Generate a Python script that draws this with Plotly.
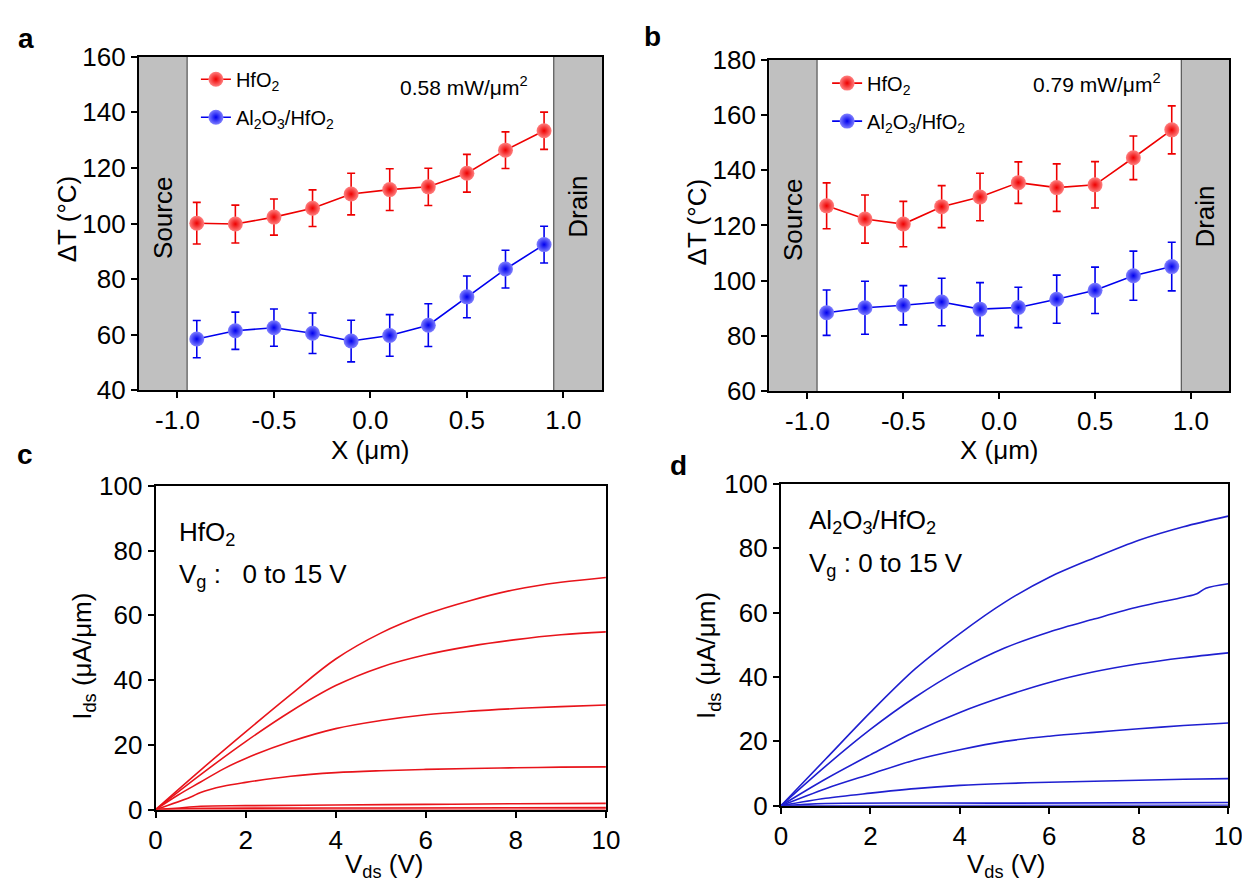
import plotly.graph_objects as go

# ---------------- data ----------------
x_pos = [-0.9, -0.7, -0.5, -0.3, -0.1, 0.1, 0.3, 0.5, 0.7, 0.9]

a_hfo2 = [100.1, 99.8, 102.3, 105.5, 110.6, 112.2, 113.2, 118.1, 126.4, 133.4]
a_hfo2_err = [7.5, 6.8, 6.5, 6.6, 7.5, 7.5, 6.7, 6.8, 6.6, 6.7]
a_al = [58.4, 61.4, 62.5, 60.5, 57.7, 59.7, 63.4, 73.6, 83.6, 92.4]
a_al_err = [6.7, 6.7, 6.7, 7.3, 7.5, 7.5, 7.7, 7.5, 6.8, 6.6]

b_hfo2 = [127.1, 122.3, 120.5, 126.8, 130.3, 135.5, 133.7, 134.7, 144.5, 154.6]
b_hfo2_err = [8.3, 8.7, 8.2, 7.6, 8.6, 7.5, 8.6, 8.4, 7.9, 8.7]
b_al = [88.4, 90.2, 91.1, 92.3, 89.7, 90.3, 93.3, 96.5, 101.8, 105.1]
b_al_err = [8.2, 9.6, 7.1, 8.6, 9.6, 7.3, 8.7, 8.4, 8.9, 8.8]

pos_ticks = [-1.0, -0.5, 0.0, 0.5, 1.0]
pos_ticktext = ["-1.0", "-0.5", "0.0", "0.5", "1.0"]

# contact regions (um)
source_region = [-1.2, -0.95]
drain_region = [0.95, 1.2]

# output curves, panel c (HfO2)
c_x1 = [0, 1, 2, 3, 4, 5, 6, 7, 8, 9, 10]
c_y1 = [0, 12.2, 24, 35.5, 46.5, 54.5, 60.3, 64.6, 68, 70.2, 71.7]
c_x2 = [0, 1, 2, 3, 4, 5, 6, 7, 8, 9, 10]
c_y2 = [0, 10.8, 21, 30.3, 38.3, 44, 47.8, 50.5, 52.5, 54, 54.9]
c_x3 = [0, 0.5, 1, 1.5, 2, 3, 4, 5, 6, 7, 8, 9, 10]
c_y3 = [0, 4.5, 8.5, 12.5, 15.8, 21, 25, 27.5, 29.3, 30.4, 31.2, 31.8, 32.3]
c_x4 = [0, 0.77, 1, 1.5, 2, 3, 4, 5, 6, 7, 8, 9, 10]
c_y4 = [0, 3.8, 5.3, 7.2, 8.4, 10.3, 11.4, 12, 12.4, 12.7, 12.9, 13.1, 13.2]
c_x5 = [0, 0.45, 1, 2, 4, 6, 8, 10]
c_y5 = [0, 0.4, 1.0, 1.2, 1.4, 1.6, 1.8, 1.9]
c_x6 = [0, 1, 5, 10]
c_y6 = [0, 0.4, 0.5, 0.6]
c_x7 = [0, 10]
c_y7 = [0, 0.05]

# output curves, panel d (Al2O3/HfO2)
d_x1 = [0, 1, 2, 3, 4, 5, 6, 7, 8, 9, 10]
d_y1 = [0, 14.5, 29, 42.5, 53.5, 63.2, 71, 77, 82.5, 86.7, 90]
d_x2 = [0, 1, 2, 3, 4, 5, 6, 7, 8, 9, 9.3, 9.5, 10]
d_y2 = [0, 12.3, 23.7, 33.7, 42.2, 49, 54, 58, 61.8, 64.8, 65.9, 67.6, 69]
d_x3 = [0, 1, 2, 3, 4, 5, 6, 7, 8, 9, 10]
d_y3 = [0, 8.3, 15.8, 23, 29, 34, 38.3, 41.6, 44.1, 46, 47.5]
d_x4 = [0, 1, 2, 3, 4, 5, 6, 7, 8, 9, 10]
d_y4 = [0, 5.3, 9.8, 14.2, 17.4, 20, 21.6, 22.8, 23.9, 24.9, 25.7]
d_x5 = [0, 1, 2, 3, 4, 5, 6, 7, 8, 9, 10]
d_y5 = [0, 2.3, 3.9, 5.3, 6.3, 6.9, 7.3, 7.6, 7.9, 8.2, 8.4]
d_x6 = [0, 1, 5, 10]
d_y6 = [0, 0.7, 0.8, 1.0]
d_x7 = [0, 10]
d_y7 = [0, 0.1]

# ---------------- style ----------------
W, H = 1250, 890
FONT = "Liberation Sans, Arial, sans-serif"
RED = "#ee0000"
BLUE = "#0000ee"
RED_LINE = "#e8141b"
BLUE_LINE = "#1f1fd0"
TICK = 26


def px(x):
    return x / W


def py(y):
    return 1 - y / H


fig = go.Figure()


def add_series(xa, ya, y, err, color, light, name, legend, group):
    fig.add_trace(go.Scatter(
        x=x_pos, y=y, xaxis=xa, yaxis=ya, mode="lines+markers", name=name,
        line=dict(color=color, width=1.6),
        marker=dict(size=15, color=light, gradient=dict(type="radial", color=color),
                    line=dict(width=0)),
        error_y=dict(type="data", array=err, visible=True, color=color,
                     thickness=1.6, width=4),
        legend=legend, legendgroup=group, showlegend=True))


HF = "HfO<sub>2</sub>"
AL = "Al<sub>2</sub>O<sub>3</sub>/HfO<sub>2</sub>"
add_series("x", "y", a_hfo2, a_hfo2_err, RED, "#ff8080", HF, "legend", "a1")
add_series("x", "y", a_al, a_al_err, BLUE, "#8080ff", AL, "legend", "a2")
add_series("x2", "y2", b_hfo2, b_hfo2_err, RED, "#ff8080", HF, "legend2", "b1")
add_series("x2", "y2", b_al, b_al_err, BLUE, "#8080ff", AL, "legend2", "b2")

for cx, cy in [(c_x1, c_y1), (c_x2, c_y2), (c_x3, c_y3), (c_x4, c_y4),
               (c_x5, c_y5), (c_x6, c_y6), (c_x7, c_y7)]:
    fig.add_trace(go.Scatter(x=cx, y=cy, xaxis="x3", yaxis="y3", mode="lines",
                             line=dict(color=RED_LINE, width=1.6, shape="spline", smoothing=1.0),
                             showlegend=False))
for dx, dy in [(d_x1, d_y1), (d_x2, d_y2), (d_x3, d_y3), (d_x4, d_y4),
               (d_x5, d_y5), (d_x6, d_y6), (d_x7, d_y7)]:
    fig.add_trace(go.Scatter(x=dx, y=dy, xaxis="x4", yaxis="y4", mode="lines",
                             line=dict(color=BLUE_LINE, width=1.6, shape="spline", smoothing=0.9),
                             showlegend=False))


# ---------------- axes ----------------
def axis(domain, rng, dtick, anchor, vals=None, texts=None):
    d = dict(domain=domain, range=rng, anchor=anchor, showline=True, linecolor="black",
             linewidth=2, mirror=True, ticks="outside", ticklen=6, tickwidth=2,
             tickcolor="black", showgrid=False, zeroline=False,
             tickfont=dict(family=FONT, size=TICK, color="black"))
    if vals is not None:
        d.update(tickmode="array", tickvals=vals, ticktext=texts)
    else:
        d.update(tick0=rng[0], dtick=dtick)
    return d


dom_a = dict(x=[px(126), px(597)], y=[py(380), py(35)])
dom_b = dict(x=[px(767), px(1235)], y=[py(381), py(38)])
dom_c = dict(x=[px(143), px(601)], y=[py(814), py(479)])
dom_d = dict(x=[px(779), px(1234)], y=[py(810), py(477)])

fig.update_layout(
    xaxis=axis(dom_a["x"], [-1.2, 1.2], None, "y", pos_ticks, pos_ticktext),
    yaxis=axis(dom_a["y"], [40, 160], 20, "x"),
    xaxis2=axis(dom_b["x"], [-1.2, 1.2], None, "y2", pos_ticks, pos_ticktext),
    yaxis2=axis(dom_b["y"], [60, 180], 20, "x2"),
    xaxis3=axis(dom_c["x"], [0, 10], 2, "y3"),
    yaxis3=axis(dom_c["y"], [0, 100], 20, "x3"),
    xaxis4=axis(dom_d["x"], [0, 10], 2, "y4"),
    yaxis4=axis(dom_d["y"], [0, 100], 20, "x4"),
)

# ---------------- contact bands ----------------
shapes = []
for xr, yr in [("x", "y"), ("x2", "y2")]:
    for reg in (source_region, drain_region):
        shapes.append(dict(type="rect", xref=xr, yref=yr + " domain", x0=reg[0], x1=reg[1],
                           y0=0, y1=1, fillcolor="#c0c0c0", line=dict(width=0), layer="below"))
    for edge in (source_region[1], drain_region[0]):
        shapes.append(dict(type="line", xref=xr, yref=yr + " domain", x0=edge, x1=edge,
                           y0=0, y1=1, line=dict(color="#555555", width=1.2), layer="below"))
fig.update_layout(shapes=shapes)

# ---------------- legends ----------------
leg = dict(xanchor="left", yanchor="top", bgcolor="rgba(0,0,0,0)",
           font=dict(family=FONT, size=20, color="black"), tracegroupgap=9,
           itemclick=False)
fig.update_layout(
    legend=dict(x=px(184), y=py(38), **leg),
    legend2=dict(x=px(826), y=py(42), **leg),
)

# ---------------- annotations ----------------
ann = []


def text(x, y, s, size=TICK, angle=0, xanchor="center"):
    ann.append(dict(x=px(x), y=py(y), xref="paper", yref="paper", text=s, showarrow=False,
                    textangle=angle, xanchor=xanchor, yanchor="middle",
                    font=dict(family=FONT, size=size, color="black")))


text(11, 16, "<b>a</b>", 28)
text(648, 14, "<b>b</b>", 28)
text(10, 447, "<b>c</b>", 28)
text(675, 458, "<b>d</b>", 28)

text(53, 203, "ΔT (°C)", TICK, -90)
text(362, 442, "X (μm)", TICK)
text(694, 206, "ΔT (°C)", TICK, -90)
text(1001, 442, "X (μm)", TICK)
text(70, 655, "I<sub>ds</sub> (μA/μm)", TICK, -90)
text(375, 872, "V<sub>ds</sub> (V)", TICK)
text(705, 655, "I<sub>ds</sub> (μA/μm)", TICK, -90)
text(1008, 872, "V<sub>ds</sub> (V)", TICK)

text(390, 65, "0.58 mW/μm<sup>2</sup>", 21, xanchor="left")
text(1033, 62, "0.79 mW/μm<sup>2</sup>", 21, xanchor="left")

text(165, 528, "HfO<sub>2</sub>", TICK, xanchor="left")
text(165, 572, "V<sub>g</sub> :\u00a0\u00a0 0 to 15 V", TICK, xanchor="left")
text(806, 516, "Al<sub>2</sub>O<sub>3</sub>/HfO<sub>2</sub>", TICK, xanchor="left")
text(806, 560, "V<sub>g</sub> : 0 to 15 V", TICK, xanchor="left")

fig.update_layout(annotations=ann)

# Source / Drain labels in data coordinates
for xr, yr, ys, yd in [("x", "y", 102, 106), ("x2", "y2", 122, 123.3)]:
    fig.add_annotation(x=sum(source_region) / 2, y=ys, xref=xr, yref=yr, text="Source",
                       showarrow=False, textangle=-90,
                       font=dict(family=FONT, size=TICK, color="black"))
    fig.add_annotation(x=sum(drain_region) / 2, y=yd, xref=xr, yref=yr, text="Drain",
                       showarrow=False, textangle=-90,
                       font=dict(family=FONT, size=TICK, color="black"))

fig.update_layout(width=W, height=H, margin=dict(l=0, r=0, t=0, b=0),
                  paper_bgcolor="white", plot_bgcolor="white",
                  font=dict(family=FONT, color="black"))

fig.write_html("out.html")
